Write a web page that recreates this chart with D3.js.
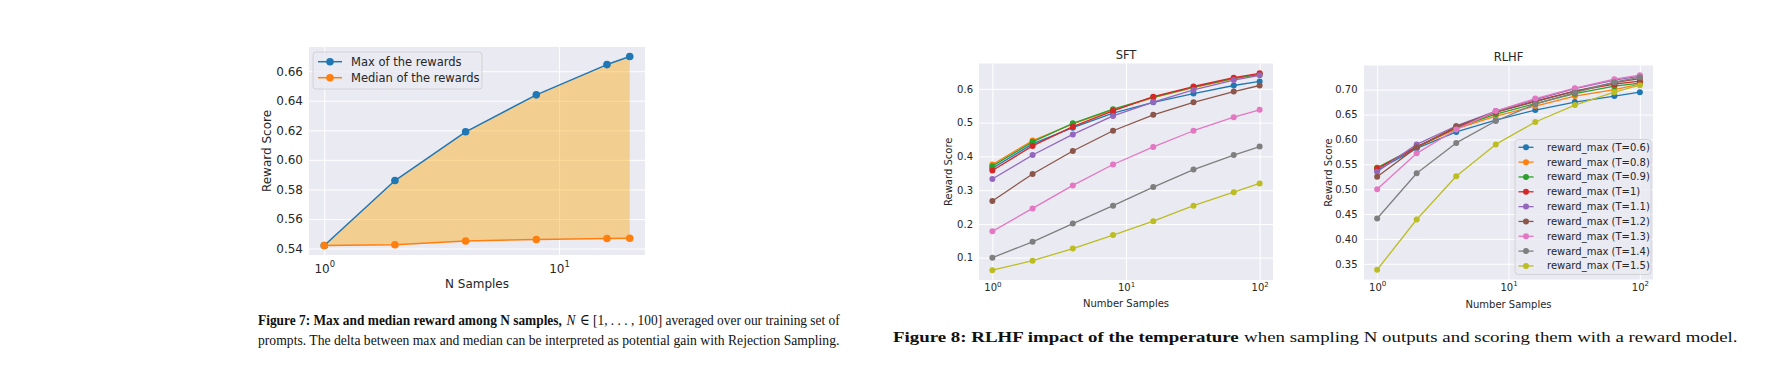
<!DOCTYPE html>
<html><head><meta charset="utf-8">
<script src="https://cdn.jsdelivr.net/npm/d3@7"></script>
<style>body{margin:0;background:#fff} svg{display:block}</style>
</head><body><svg id="c" width="1775" height="380"></svg>
<script>
// ---------- Figure 7 data ----------
const fig7N = [1, 2, 4, 8, 16, 20];
const fig7Max = [0.542, 0.586, 0.619, 0.644, 0.6645, 0.670];
const fig7Median = [0.542, 0.5425, 0.5451, 0.5461, 0.5468, 0.5469];
const fig7YTicks = [0.54, 0.56, 0.58, 0.60, 0.62, 0.64, 0.66];
const fig7XTicks = [1, 10];
const fig7Labels = ["Max of the rewards", "Median of the rewards"];

// ---------- Figure 8 data ----------
const sampleN = [1, 2, 4, 8, 16, 32, 64, 100];
const temperatures = ["0.6", "0.8", "0.9", "1", "1.1", "1.2", "1.3", "1.4", "1.5"];
const sftT06 = [0.365, 0.437, 0.485, 0.528, 0.560, 0.586, 0.610, 0.622];
const sftT08 = [0.376, 0.447, 0.496, 0.538, 0.574, 0.604, 0.630, 0.644];
const sftT09 = [0.371, 0.443, 0.498, 0.540, 0.575, 0.605, 0.631, 0.642];
const sftT10 = [0.358, 0.431, 0.488, 0.535, 0.577, 0.607, 0.633, 0.646];
const sftT11 = [0.333, 0.404, 0.465, 0.520, 0.561, 0.597, 0.626, 0.640];
const sftT12 = [0.268, 0.348, 0.416, 0.476, 0.523, 0.560, 0.592, 0.610];
const sftT13 = [0.178, 0.246, 0.314, 0.376, 0.428, 0.476, 0.516, 0.538];
const sftT14 = [0.100, 0.147, 0.201, 0.254, 0.309, 0.361, 0.404, 0.429];
const sftT15 = [0.063, 0.091, 0.127, 0.167, 0.208, 0.254, 0.294, 0.320];
const rlhfT06 = [0.538, 0.582, 0.615, 0.639, 0.659, 0.675, 0.687, 0.695];
const rlhfT08 = [0.543, 0.584, 0.621, 0.647, 0.667, 0.687, 0.700, 0.711];
const rlhfT09 = [0.543, 0.585, 0.623, 0.651, 0.672, 0.692, 0.707, 0.713];
const rlhfT10 = [0.541, 0.585, 0.624, 0.655, 0.677, 0.697, 0.711, 0.717];
const rlhfT11 = [0.535, 0.590, 0.627, 0.657, 0.680, 0.702, 0.719, 0.727];
const rlhfT12 = [0.525, 0.584, 0.626, 0.655, 0.676, 0.697, 0.714, 0.722];
const rlhfT13 = [0.500, 0.572, 0.620, 0.657, 0.682, 0.703, 0.721, 0.729];
const rlhfT14 = [0.441, 0.532, 0.593, 0.637, 0.671, 0.694, 0.715, 0.725];
const rlhfT15 = [0.338, 0.439, 0.526, 0.590, 0.635, 0.669, 0.695, 0.709];
const sftYTicks = [0.1, 0.2, 0.3, 0.4, 0.5, 0.6];
const rlhfYTicks = [0.35, 0.40, 0.45, 0.50, 0.55, 0.60, 0.65, 0.70];
const tempXTicks = [1, 10, 100];

const sftSeries = [sftT06, sftT08, sftT09, sftT10, sftT11, sftT12, sftT13, sftT14, sftT15];
const rlhfSeries = [rlhfT06, rlhfT08, rlhfT09, rlhfT10, rlhfT11, rlhfT12, rlhfT13, rlhfT14, rlhfT15];
const palette = ["#1f77b4","#ff7f0e","#2ca02c","#d62728","#9467bd","#8c564b","#e377c2","#7f7f7f","#bcbd22"];

const svg = d3.select("#c");
svg.append("rect").attr("width",1775).attr("height",380).attr("fill","#fff");
const FONT = "'DejaVu Sans', sans-serif";
const INK = "#262626";

function makeScales(box, xVals, yVals) {
  const lx = d3.extent(xVals).map(Math.log10), px = 0.05 * (lx[1] - lx[0]);
  const x = d3.scaleLog().domain([10 ** (lx[0] - px), 10 ** (lx[1] + px)]).range([box.x0, box.x1]);
  const ey = d3.extent(yVals), py = 0.05 * (ey[1] - ey[0]);
  const y = d3.scaleLinear().domain([ey[0] - py, ey[1] + py]).range([box.y1, box.y0]);
  return { x, y };
}

function frame(box, x, y, o) {
  const g = svg.append("g");
  g.append("rect").attr("x", box.x0).attr("y", box.y0)
    .attr("width", box.x1 - box.x0).attr("height", box.y1 - box.y0).attr("fill", "#EAEAF2");
  const gy = g.append("g").attr("transform", `translate(${box.x0},0)`)
    .call(d3.axisLeft(y).tickValues(o.yTicks).tickSize(-(box.x1 - box.x0)).tickFormat(""));
  const gx = g.append("g").attr("transform", `translate(0,${box.y1})`)
    .call(d3.axisBottom(x).tickValues(o.xTicks).tickSize(-(box.y1 - box.y0)).tickFormat(""));
  [gy, gx].forEach(a => { a.select(".domain").remove(); a.selectAll("text").remove();
    a.selectAll("line").attr("stroke", "#fff").attr("stroke-width", 1); });
  const ay = g.append("g").attr("transform", `translate(${box.x0},0)`)
    .call(d3.axisLeft(y).tickValues(o.yTicks).tickFormat(d3.format(o.fmt)).tickSize(0).tickPadding(o.pad));
  ay.select(".domain").remove();
  ay.selectAll("text").attr("font-family", FONT).attr("font-size", o.fs).attr("fill", INK);
  const ax = g.append("g").attr("transform", `translate(0,${box.y1})`)
    .call(d3.axisBottom(x).tickValues(o.xTicks).tickFormat("").tickSize(0));
  ax.select(".domain").remove();
  ax.selectAll("text").remove();
  ax.selectAll(".tick").each(function (d) {
    const t = d3.select(this).append("text").attr("y", o.xBase).attr("text-anchor", "middle")
      .attr("font-family", FONT).attr("font-size", o.fs).attr("fill", INK);
    t.append("tspan").text("10");
    t.append("tspan").attr("dy", -o.fs * 0.45).attr("font-size", o.fs * 0.7).text(String(Math.round(Math.log10(d))));
  });
  g.append("text").attr("x", (box.x0 + box.x1) / 2).attr("y", o.xlabY).attr("text-anchor", "middle")
    .attr("font-family", FONT).attr("font-size", o.fs).attr("fill", INK).text(o.xlabel);
  g.append("text").attr("transform", `translate(${o.ylabX},${(box.y0 + box.y1) / 2}) rotate(-90)`)
    .attr("text-anchor", "middle").attr("dominant-baseline", "central")
    .attr("font-family", FONT).attr("font-size", o.fs).attr("fill", INK).text(o.ylabel);
  if (o.title) g.append("text").attr("x", (box.x0 + box.x1) / 2).attr("y", box.y0 - 5).attr("text-anchor", "middle")
    .attr("font-family", FONT).attr("font-size", o.fs * 1.15).attr("fill", INK).text(o.title);
  return g;
}

function series(g, x, y, xs, ys, color, lw, r) {
  const pts = xs.map((n, i) => [n, ys[i]]);
  g.append("path").datum(pts).attr("fill", "none").attr("stroke", color).attr("stroke-width", lw)
    .attr("stroke-linejoin", "round")
    .attr("d", d3.line().x(d => x(d[0])).y(d => y(d[1])));
  g.selectAll(null).data(pts).enter().append("circle")
    .attr("cx", d => x(d[0])).attr("cy", d => y(d[1])).attr("r", r).attr("fill", color);
}

function legend(box, items, o) {
  const g = svg.append("g");
  g.append("rect").attr("x", box.x0).attr("y", box.y0).attr("width", box.x1 - box.x0).attr("height", box.y1 - box.y0)
    .attr("rx", 3).attr("fill", "#EAEAF2").attr("fill-opacity", 0.8).attr("stroke", "#cccccc").attr("stroke-width", 0.8);
  items.forEach((it, i) => {
    const yy = o.y0 + i * o.dy;
    g.append("line").attr("x1", o.h0).attr("x2", o.h1).attr("y1", yy).attr("y2", yy)
      .attr("stroke", it.color).attr("stroke-width", o.lw);
    g.append("circle").attr("cx", (o.h0 + o.h1) / 2).attr("cy", yy).attr("r", o.r).attr("fill", it.color);
    g.append("text").attr("x", o.tx).attr("y", yy).attr("dominant-baseline", "central")
      .attr("font-family", FONT).attr("font-size", o.fs).attr("fill", INK).text(it.label);
  });
}

// ---------- Figure 7 ----------
{
  const box = { x0: 309, x1: 645, y0: 47, y1: 255 };
  const { x, y } = makeScales(box, fig7N, fig7Max.concat(fig7Median));
  const g = frame(box, x, y, { yTicks: fig7YTicks, xTicks: fig7XTicks, fmt: ".2f", fs: 12, pad: 6,
    xBase: 17.5, xlabel: "N Samples", xlabY: 287.5, ylabel: "Reward Score", ylabX: 267 });
  const pts = fig7N.map((n, i) => ({ n, hi: fig7Max[i], lo: fig7Median[i] }));
  g.append("path").datum(pts).attr("fill", "orange").attr("fill-opacity", 0.4)
    .attr("d", d3.area().x(d => x(d.n)).y0(d => y(d.lo)).y1(d => y(d.hi)));
  series(g, x, y, fig7N, fig7Max, "#1f77b4", 1.5, 3.8);
  series(g, x, y, fig7N, fig7Median, "#ff7f0e", 1.5, 3.8);
  legend({ x0: 313, x1: 482, y0: 52, y1: 89 },
    [{ label: fig7Labels[0], color: "#1f77b4" }, { label: fig7Labels[1], color: "#ff7f0e" }],
    { y0: 61.7, dy: 16, h0: 318, h1: 342, tx: 351, fs: 11.5, lw: 1.5, r: 3.8 });
}

// ---------- Figure 8: SFT ----------
{
  const box = { x0: 979, x1: 1273, y0: 63.5, y1: 280 };
  const { x, y } = makeScales(box, sampleN, sftSeries.flat());
  const g = frame(box, x, y, { yTicks: sftYTicks, xTicks: tempXTicks, fmt: ".1f", fs: 10, pad: 6,
    xBase: 11, xlabel: "Number Samples", xlabY: 307, ylabel: "Reward Score", ylabX: 948.5, title: "SFT" });
  sftSeries.forEach((s, i) => series(g, x, y, sampleN, s, palette[i], 1.3, 3));
}

// ---------- Figure 8: RLHF ----------
{
  const box = { x0: 1364, x1: 1653, y0: 65.5, y1: 279.5 };
  const { x, y } = makeScales(box, sampleN, rlhfSeries.flat());
  const g = frame(box, x, y, { yTicks: rlhfYTicks, xTicks: tempXTicks, fmt: ".2f", fs: 10, pad: 6.5,
    xBase: 11, xlabel: "Number Samples", xlabY: 307.5, ylabel: "Reward Score", ylabX: 1328.5, title: "RLHF" });
  rlhfSeries.forEach((s, i) => series(g, x, y, sampleN, s, palette[i], 1.3, 3));
  legend({ x0: 1515, x1: 1651, y0: 139.5, y1: 274.5 },
    temperatures.map((t, i) => ({ label: `reward_max (T=${t})`, color: palette[i] })),
    { y0: 147.3, dy: 14.83, h0: 1518.5, h1: 1533.5, tx: 1547, fs: 10, lw: 1.3, r: 3 });
}

// ---------- Captions (each run is its own text, horizontally scaled to fit the line width) ----------
const SERIF = "'Liberation Serif', 'DejaVu Serif', serif";
function caption(xPos, yPos, width, size, parts) {
  const els = parts.map(p => {
    const t = svg.append("text").attr("x", 0).attr("y", 0).attr("font-family", SERIF)
      .attr("font-size", size).attr("fill", "#111").text(p.t);
    if (p.b) t.attr("font-weight", "bold");
    if (p.i) t.attr("font-style", "italic");
    return { t, w: t.node().getComputedTextLength(), gap: p.gap || 0 };
  });
  const total = d3.sum(els, e => e.w + e.gap), k = width / total;
  let cx = xPos;
  els.forEach(e => {
    cx += e.gap * k;
    e.t.attr("transform", `translate(${cx},${yPos}) scale(${k},1)`);
    cx += e.w * k;
  });
}
caption(258, 325, 582, 15.5, [
  { t: "Figure 7: Max and median reward among N samples,", b: true },
  { t: "N", i: true, gap: 5 },
  { t: "∈ [1, . . . , 100] averaged over our training set of", gap: 5 }]);
caption(258, 344.5, 582, 15.5, [
  { t: "prompts. The delta between max and median can be interpreted as potential gain with Rejection Sampling." }]);
caption(893, 342, 845, 15, [
  { t: "Figure 8: RLHF impact of the temperature", b: true },
  { t: "when sampling N outputs and scoring them with a reward model.", gap: 4 }]);
</script></body></html>
